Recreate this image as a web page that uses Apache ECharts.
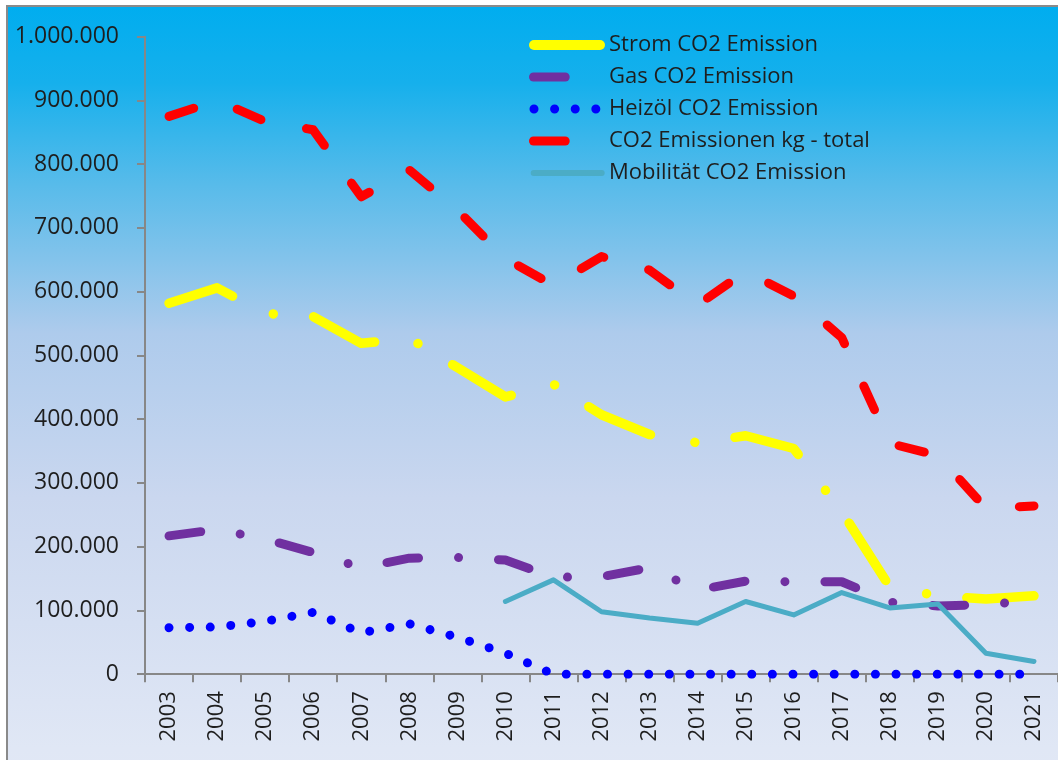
<!DOCTYPE html>
<html>
<head>
<meta charset="utf-8">
<script src="https://cdn.jsdelivr.net/npm/echarts@6/dist/echarts.min.js"></script>
<style>
html,body{margin:0;padding:0;background:#ffffff;}
#chart{position:absolute;left:0;top:0;width:1058px;height:760px;}
</style>
</head>
<body>
<div id="chart"></div>
<script>
const years = ['2003','2004','2005','2006','2007','2008','2009','2010','2011','2012','2013','2014','2015','2016','2017','2018','2019','2020','2021'];
const strom = [582000, 606000, 566000, 561000, 519000, 527000, 481000, 435000, 455000, 407000, 376000, 363000, 374000, 354000, 255000, 137000, 123000, 118000, 123000];
const gas = [217000, 227000, 212000, 191000, 167000, 182000, 183000, 179000, 152000, 153000, 167000, 132000, 146000, 145000, 145000, 113000, 107000, 109000, 116000];
const heizoel = [73000, 74000, 83000, 97000, 65000, 79000, 58000, 33000, 0, 0, 0, 0, 0, 0, 0, 0, 0, 0, 0];
const total = [875000, 900000, 867000, 854000, 749000, 791000, 728000, 652000, 610000, 655000, 634000, 579000, 632000, 593000, 528000, 362000, 343000, 260000, 264000];
const mobil = [null, null, null, null, null, null, null, 114000, 148000, 98000, 88000, 80000, 114000, 93000, 128000, 104000, 110000, 33000, 20000];
const yTicks = [0, 100000, 200000, 300000, 400000, 500000, 600000, 700000, 800000, 900000, 1000000];

const names = ['Strom CO2 Emission', 'Gas CO2 Emission', 'Heizöl CO2 Emission', 'CO2 Emissionen kg - total', 'Mobilität CO2 Emission'];
const FONT = '"Open Sans", "Liberation Sans", sans-serif';
const TXT = '#1e1e1e';

function fmt(v) { return String(v).replace(/\B(?=(\d{3})+(?!\d))/g, '.'); }

const chart = echarts.init(document.getElementById('chart'), null, {renderer: 'canvas'});
chart.setOption({
  animation: false,
  backgroundColor: '#ffffff',
  graphic: [{
    type: 'rect', silent: true, z: -10,
    shape: {x: 7, y: 6, width: 1080, height: 780},
    style: {
      fill: new echarts.graphic.LinearGradient(0, 0, 0, 1, [
        {offset: 0, color: '#00adef'},
        {offset: 0.1, color: '#16b0ec'},
        {offset: 0.23, color: '#58bbea'},
        {offset: 0.42, color: '#aecbec'},
        {offset: 0.63, color: '#cad7ef'},
        {offset: 0.95, color: '#e0e7f5'},
        {offset: 1, color: '#e2e8f5'}
      ]),
      stroke: '#8a8a8a', lineWidth: 2
    }
  }],
  grid: {left: 145, right: -10.4, top: 36.7, bottom: 85.8, containLabel: false},
  legend: {
    orient: 'vertical', left: 514, top: 27, itemWidth: 80, itemHeight: 12, itemGap: 6,
    selectedMode: false,
    itemStyle: {opacity: 0, borderWidth: 0},
    textStyle: {fontFamily: FONT, fontSize: 22, color: TXT, lineHeight: 26},
    data: [
      {name: names[0], itemStyle: {opacity: 0}, lineStyle: {width: 10, cap: 'round', type: [66, 300], dashOffset: -10}},
      {name: names[1], itemStyle: {opacity: 0}, lineStyle: {width: 9, cap: 'round', type: [31.7, 300], dashOffset: -9.5}},
      {name: names[2], itemStyle: {opacity: 0}, lineStyle: {width: 9, cap: 'round', type: [0.01, 20.6], dashOffset: -10}},
      {name: names[3], itemStyle: {opacity: 0}, lineStyle: {width: 9, cap: 'round', type: [31.7, 300], dashOffset: -9.5}},
      {name: names[4], itemStyle: {opacity: 0}, lineStyle: {width: 6, cap: 'round', type: [68, 300], dashOffset: -9.7}}
    ]
  },
  xAxis: {
    type: 'category', data: years, boundaryGap: true,
    axisLine: {lineStyle: {color: '#878787', width: 2}},
    axisTick: {show: true, length: 8, lineStyle: {color: '#878787', width: 2}},
    axisLabel: {rotate: 90, margin: 17, fontFamily: FONT, fontSize: 22, color: TXT, interval: 0}
  },
  yAxis: {
    type: 'value', min: yTicks[0], max: yTicks[yTicks.length - 1], interval: yTicks[1] - yTicks[0],
    axisLine: {show: true, lineStyle: {color: '#878787', width: 2}},
    axisTick: {show: true, length: 8, lineStyle: {color: '#878787', width: 2}},
    splitLine: {show: false},
    axisLabel: {margin: 26, fontFamily: FONT, fontSize: 23, color: TXT, formatter: fmt}
  },
  series: [
    {name: names[0], type: 'line', data: strom, symbol: 'none', color: '#ffff00',
     lineStyle: {color: '#ffff00', width: 9.5, cap: 'round', join: 'round', type: [68, 45, 0.01, 40.5]}},
    {name: names[1], type: 'line', data: gas, symbol: 'none', color: '#7030a0',
     lineStyle: {color: '#7030a0', width: 9, cap: 'round', join: 'round', type: [32, 40, 0.01, 40]}},
    {name: names[2], type: 'line', data: heizoel, symbol: 'none', color: '#0000ff',
     lineStyle: {color: '#0000ff', width: 9, cap: 'round', join: 'round', type: [0.01, 20.6]}},
    {name: names[3], type: 'line', data: total, symbol: 'none', color: '#ff0000',
     lineStyle: {color: '#ff0000', width: 9, cap: 'round', join: 'round', type: [26, 46.5]}},
    {name: names[4], type: 'line', data: mobil, symbol: 'none', color: '#4bacc6',
     lineStyle: {color: '#4bacc6', width: 5, cap: 'round', join: 'round'}}
  ]
});
</script>
</body>
</html>
